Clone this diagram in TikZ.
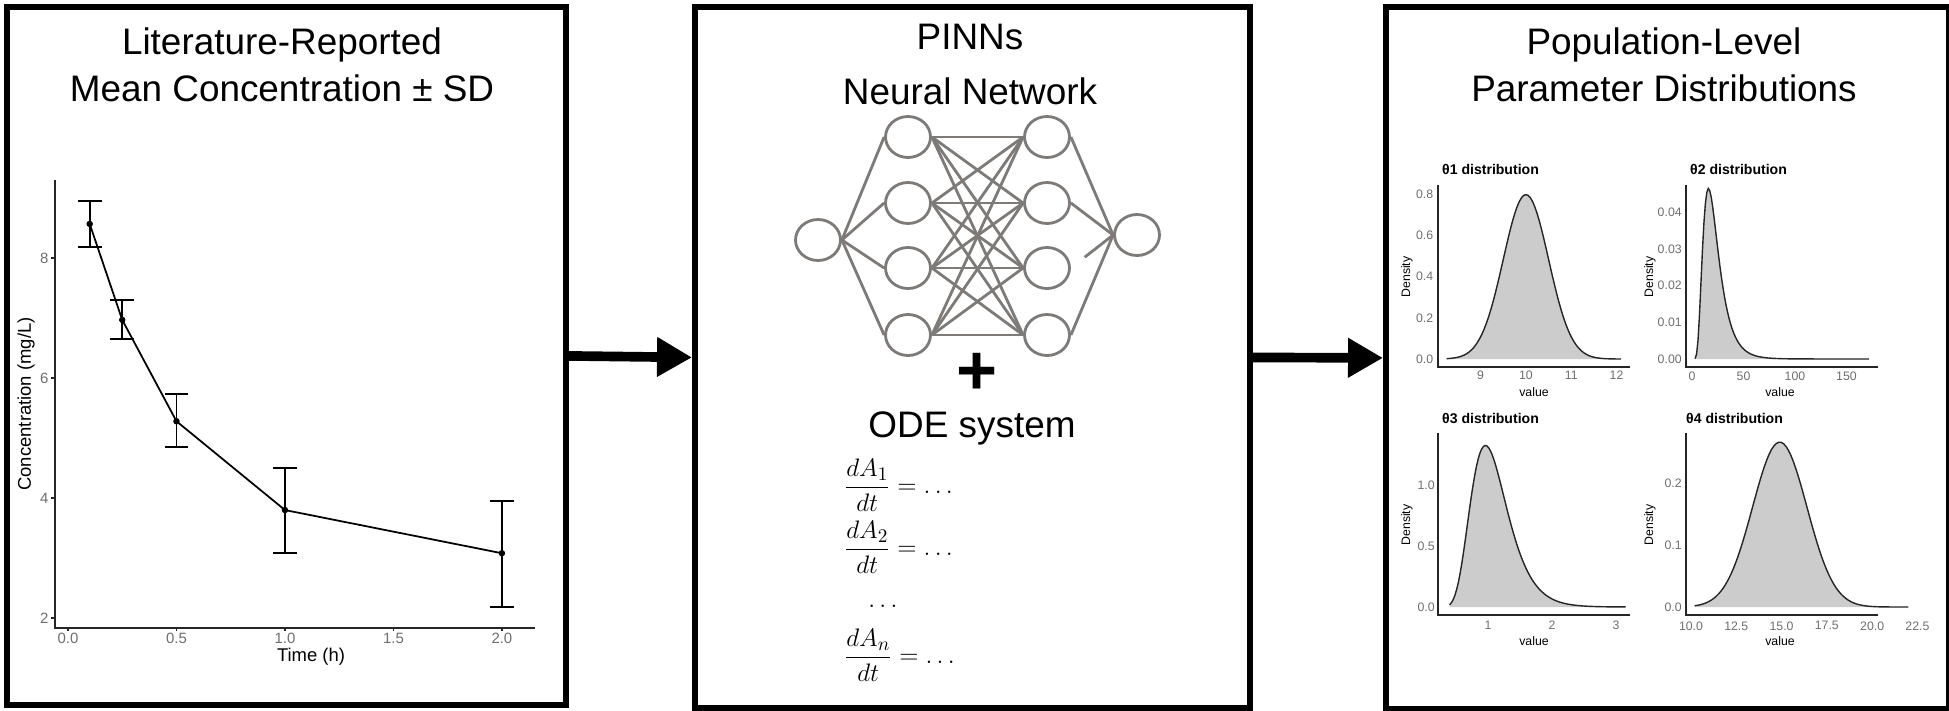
\documentclass[tikz,border=0pt]{standalone}
\usepackage{amsmath}
\usepackage{fontspec}
\setmainfont{Liberation Sans}
\usepackage{tikz}
\usetikzlibrary{arrows.meta,shapes.geometric}
\definecolor{netgray}{RGB}{125,122,120}
\definecolor{tickgray}{RGB}{110,110,110}

\tikzset{
  panel/.style={draw, line width=3.4pt, anchor=north west, inner sep=0pt},
  headline/.style={font=\fontsize{21}{27}\selectfont, align=center},
  bigarrow/.style={line width=5.5pt, -{Triangle[length=0.7cm,width=0.75cm]}},
  neuron/.style={ellipse, draw=netgray, line width=1.6pt, minimum width=0.9cm, minimum height=0.82cm},
  wire/.style={netgray, line width=1.6pt},
  ticklab/.style={text=tickgray, inner sep=1pt},
  axisline/.style={black!85, line width=0.7pt},
  distfill/.style={fill=black!20},
  distline/.style={black!85, line width=0.8pt},
  dot/.style={circle, fill=black, inner sep=0pt, minimum size=0.13cm}
}

\begin{document}
\begin{tikzpicture}[x=0.02cm, y=-0.02cm]
\useasboundingbox (0,0) rectangle (1949,710);

% three panels
\node[panel, minimum width=11.18cm, minimum height=13.96cm] (lit) at (4,4) {};
\node[panel, minimum width=11.1cm, minimum height=14.02cm] (pinn) at (692,4) {};
\node[panel, minimum width=11.26cm, minimum height=14.04cm] (popd) at (1383,4) {};
\draw[bigarrow] (lit.east) -- (pinn.west);
\draw[bigarrow] (pinn.east) -- (popd.west);

% headlines
\node[headline] (lithead) at (282,65) {Literature-Reported\\Mean Concentration \textpm{} SD};
\node[headline] (pinnhead) at (970,37) {PINNs};
\node[headline] (nnhead) at (970,91) {Neural Network};
\node[headline] (popdhead) at (1664,65) {Population-Level\\Parameter Distributions};

% concentration plot
\draw[axisline] (55,180) |- (535,628);
\node[rotate=90, font=\fontsize{10.5}{12}\selectfont] (conclab) at (26,404) {Concentration (mg/L)};
\node[font=\fontsize{10.5}{12}\selectfont] (timelab) at (311,657) {Time (h)};
\begin{scope}[shift={(68,738)}, x=4.34cm, y=1.2cm]
\foreach \c in {2,4,6,8}{
  \draw[axisline] (-0.06,\c) -- (-0.08,\c);
  \node[ticklab, anchor=east, font=\fontsize{8.5}{10}\selectfont] (yt\c) at (-0.08,\c) {\c};
}
\foreach \t in {0.0,0.5,1.0,1.5,2.0}{
  \draw[axisline] (\t,1.83) -- (\t,1.79);
  \node[ticklab, anchor=north, font=\fontsize{8.5}{10}\selectfont] (xt\t) at (\t,1.79) {\t};
}
\foreach \t/\c/\lo/\hi [count=\i] in {0.1/8.57/8.18/8.95, 0.25/6.97/6.65/7.30, 0.5/5.28/4.85/5.73, 1.0/3.80/3.08/4.50, 2.0/3.08/2.18/3.95}{
  \draw[line width=1pt] (\t-0.055,\lo) -- (\t+0.055,\lo) (\t,\lo) -- (\t,\hi) (\t-0.055,\hi) -- (\t+0.055,\hi);
  \node[dot] (p\i) at (\t,\c) {};
}
\draw[line width=1pt] (p1.center) -- (p2.center) -- (p3.center) -- (p4.center) -- (p5.center);
\end{scope}

% neural network
\node[neuron] (in) at (818,240) {};
\foreach \y [count=\i] in {137,203,268,335}{
  \node[neuron] (a\i) at (908,\y) {};
  \node[neuron] (b\i) at (1047,\y) {};
}
\node[neuron] (out) at (1137,235) {};
\foreach \i in {1,...,4}{
  \draw[wire] (in.east) -- (a\i.west);
  \foreach \j in {1,...,4}{\draw[wire] (a\i.east) -- (b\j.west);}
}
\foreach \j in {1,2,4}{\draw[wire] (b\j.east) -- (out.west);}
\draw[wire, shorten <=0.35cm] (b3.east) -- (out.west);

\node[inner sep=0pt, font=\bfseries\fontsize{40}{40}\selectfont] (plus) at (977,374) {+};
\node[headline, inner sep=1pt] (odehead) at (972,428) {ODE system};
\node[anchor=west, font=\fontsize{15}{18}\selectfont] (eq1) at (838,485) {$\displaystyle\frac{dA_1}{dt} = \dots$};
\node[anchor=west, font=\fontsize{15}{18}\selectfont] (eq2) at (838,547) {$\displaystyle\frac{dA_2}{dt} = \dots$};
\node[font=\fontsize{15}{18}\selectfont] (eqdots) at (885,606) {$\dots$};
\node[anchor=west, font=\fontsize{15}{18}\selectfont] (eqn) at (838,655) {$\displaystyle\frac{dA_n}{dt} = \dots$};

% distribution plots
\begin{scope}[font=\fontsize{7}{8}\selectfont]
\node[anchor=west, font=\bfseries\fontsize{8}{9}\selectfont] (t1) at (1436,169) {θ1 distribution};
\node[anchor=west, font=\bfseries\fontsize{8}{9}\selectfont] (t2) at (1684,169) {θ2 distribution};
\node[anchor=west, font=\bfseries\fontsize{8}{9}\selectfont] (t3) at (1436,418) {θ3 distribution};
\node[anchor=west, font=\bfseries\fontsize{8}{9}\selectfont] (t4) at (1680,418) {θ4 distribution};
\node[rotate=90] (d1) at (1407,277) {Density};
\node[rotate=90] (d2) at (1650,277) {Density};
\node[rotate=90] (d3) at (1407,525) {Density};
\node[rotate=90] (d4) at (1650,525) {Density};
\node (v1) at (1534,392) {value};
\node (v2) at (1780,392) {value};
\node (v3) at (1534,641) {value};
\node (v4) at (1780,641) {value};
\draw[axisline] (1438,185) |- (1630,367);
\draw[axisline] (1686,185) |- (1878,367);
\draw[axisline] (1438,433) |- (1630,615);
\draw[axisline] (1686,433) |- (1878,615);

\begin{scope}[shift={(1073,359)}, x=0.906cm, y=4.12cm]
\fill[distfill] plot[domain=8.25:12.1, samples=80] (\x,{exp(-(\x-10)^2/0.5)/1.2533}) -- (12.1,0) -- (8.25,0) -- cycle;
\draw[distline] plot[domain=8.25:12.1, samples=80] (\x,{exp(-(\x-10)^2/0.5)/1.2533});
\foreach \v in {0.0,0.2,0.4,0.6,0.8}{\node[ticklab, anchor=east] (ya\v) at (8.0,\v) {\v};}
\foreach \v in {9,10,11,12}{\node[ticklab, anchor=north] (xa\v) at (\v,-0.05) {\v};}
\end{scope}

\begin{scope}[shift={(1692,359)}, x=0.0206cm, y=73.5cm]
\fill[distfill] plot[domain=3:172, samples=120] (\x,{exp(-(ln(\x)-3)^2/0.4608)/(\x*1.2032)}) -- (172,0) -- (3,0) -- cycle;
\draw[distline] plot[domain=3:172, samples=120] (\x,{exp(-(ln(\x)-3)^2/0.4608)/(\x*1.2032)});
\foreach \v in {0.00,0.01,0.02,0.03,0.04}{\node[ticklab, anchor=east] (yb\v) at (-8,\v) {\v};}
\foreach \v in {0,50,100,150}{\node[ticklab, anchor=north] (xb\v) at (\v,-0.0028) {\v};}
\end{scope}

\begin{scope}[shift={(1424,607)}, x=1.28cm, y=2.44cm]
\fill[distfill] plot[domain=0.4:3.15, samples=100] (\x,{exp(-(ln(\x)-0.049)^2/0.18)/(\x*0.752)}) -- (3.15,0) -- (0.4,0) -- cycle;
\draw[distline] plot[domain=0.4:3.15, samples=100] (\x,{exp(-(ln(\x)-0.049)^2/0.18)/(\x*0.752)});
\foreach \v in {0.0,0.5,1.0}{\node[ticklab, anchor=east] (yc\v) at (0.2,\v) {\v};}
\foreach \v in {1,2,3}{\node[ticklab, anchor=north] (xc\v) at (\v,-0.1) {\v};}
\end{scope}

\begin{scope}[shift={(1509.8,607)}, x=0.3624cm, y=12.4cm]
\fill[distfill] plot[domain=10.2:22, samples=90] (\x,{exp(-(\x-14.9)^2/4.5)/3.76}) -- (22,0) -- (10.2,0) -- cycle;
\draw[distline] plot[domain=10.2:22, samples=90] (\x,{exp(-(\x-14.9)^2/4.5)/3.76});
\foreach \v in {0.0,0.1,0.2}{\node[ticklab, anchor=east] (yd\v) at (9.6,\v) {\v};}
\foreach \v in {10.0,12.5,15.0,17.5,20.0,22.5}{\node[ticklab, anchor=north] (xd\v) at (\v,-0.02) {\v};}
\end{scope}
\end{scope}
\end{tikzpicture}
\end{document}
